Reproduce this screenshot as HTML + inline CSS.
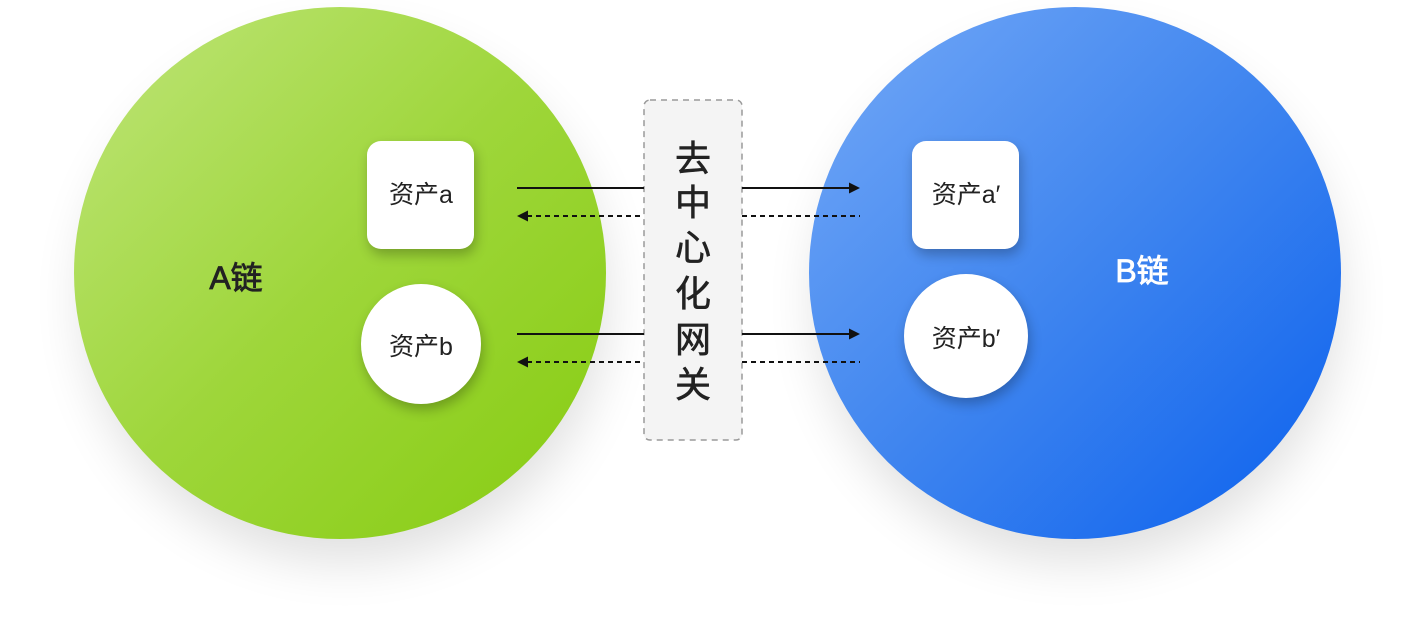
<!DOCTYPE html>
<html><head><meta charset="utf-8"><style>
html,body{margin:0;padding:0;background:#fff;}
svg{display:block;}
text{font-family:"Liberation Sans","Noto Sans CJK SC",sans-serif;}
</style></head><body>
<svg width="1416" height="621" viewBox="0 0 1416 621" xmlns="http://www.w3.org/2000/svg">
<defs>
<linearGradient id="g" x1="0" y1="0" x2="1" y2="1">
<stop offset="0" stop-color="#bfe57a"/><stop offset="0.5" stop-color="#9ed63a"/><stop offset="1" stop-color="#86cc10"/>
</linearGradient>
<linearGradient id="b" x1="0" y1="0" x2="1" y2="1">
<stop offset="0" stop-color="#74a9f7"/><stop offset="0.5" stop-color="#3f85ef"/><stop offset="1" stop-color="#0a60ee"/>
</linearGradient>
<filter id="sh" x="-30%" y="-30%" width="160%" height="160%"><feGaussianBlur stdDeviation="25"/></filter>
<filter id="sh2" x="-40%" y="-40%" width="180%" height="180%"><feGaussianBlur stdDeviation="6"/></filter>
</defs>
<circle cx="345" cy="300" r="262" fill="#000" opacity="0.12" filter="url(#sh)"/>
<circle cx="1078" cy="300" r="262" fill="#000" opacity="0.12" filter="url(#sh)"/>
<circle cx="340" cy="273" r="266" fill="url(#g)"/>
<circle cx="1075" cy="273" r="266" fill="url(#b)"/>
<rect x="644" y="100" width="98" height="340" rx="6" fill="#f4f4f4" stroke="#9a9a9a" stroke-width="1.5" stroke-dasharray="6,5"/>
<g font-size="36" fill="#222" text-anchor="middle" stroke="#222" stroke-width="0.6">
<text x="693" y="171">去</text><text x="693" y="215">中</text><text x="693" y="260">心</text>
<text x="693" y="306">化</text><text x="693" y="352">网</text><text x="693" y="397">关</text>
</g>
<g opacity="0.25" filter="url(#sh2)">
<rect x="369" y="147" width="107" height="108" rx="14" fill="#000"/>
<circle cx="423" cy="350" r="60" fill="#000"/>
<rect x="914" y="147" width="107" height="108" rx="14" fill="#000"/>
<circle cx="968" cy="342" r="62" fill="#000"/>
</g>
<rect x="367" y="141" width="107" height="108" rx="14" fill="#fff"/>
<circle cx="421" cy="344" r="60" fill="#fff"/>
<rect x="912" y="141" width="107" height="108" rx="14" fill="#fff"/>
<circle cx="966" cy="336" r="62" fill="#fff"/>
<g font-size="25" fill="#222" text-anchor="middle">
<text x="421" y="203">资产a</text>
<text x="421" y="355">资产b</text>
<text x="966" y="203">资产a′</text>
<text x="966" y="347">资产b′</text>
</g>
<text x="236" y="289" font-size="32" fill="#222" stroke="#222" stroke-width="0.8" text-anchor="middle">A链</text>
<text x="1142" y="282" font-size="32" fill="#fff" stroke="#fff" stroke-width="0.8" text-anchor="middle">B链</text>
<g stroke="#111" stroke-width="2" fill="none">
<line x1="517" y1="188" x2="644" y2="188"/><line x1="742" y1="188" x2="850" y2="188"/>
<line x1="527" y1="216" x2="644" y2="216" stroke-dasharray="5,4"/><line x1="742" y1="216" x2="860" y2="216" stroke-dasharray="5,4"/>
<line x1="517" y1="334" x2="644" y2="334"/><line x1="742" y1="334" x2="850" y2="334"/>
<line x1="527" y1="362" x2="644" y2="362" stroke-dasharray="5,4"/><line x1="742" y1="362" x2="860" y2="362" stroke-dasharray="5,4"/>
</g>
<g fill="#111">
<polygon points="860,188 849,182.5 849,193.5"/>
<polygon points="860,334 849,328.5 849,339.5"/>
<polygon points="517,216 528,210.5 528,221.5"/>
<polygon points="517,362 528,356.5 528,367.5"/>
</g>
</svg>
</body></html>
